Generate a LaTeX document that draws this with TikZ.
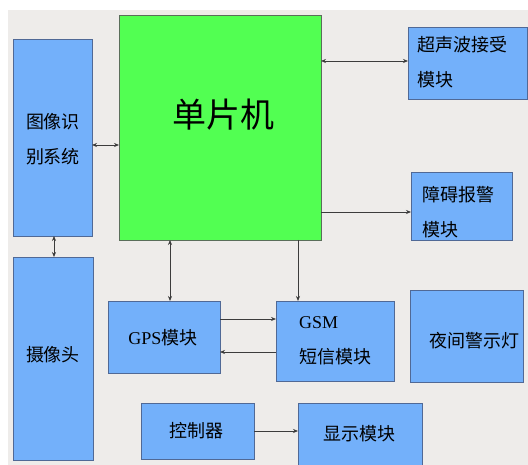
\documentclass[tikz,border=0pt]{standalone}
\usepackage{fontspec}
\setmainfont{Liberation Serif}
\newfontfamily\cjk{Noto Sans CJK SC}
\usetikzlibrary{arrows.meta}
\definecolor{bg}{RGB}{238,236,234}
\definecolor{boxblue}{RGB}{115,176,250}
\definecolor{boxedge}{RGB}{80,105,150}
\definecolor{mcugreen}{RGB}{82,255,82}
\definecolor{mcuedge}{RGB}{90,110,90}
\definecolor{linegray}{RGB}{60,60,60}
\begin{document}
\begin{tikzpicture}[x=1pt,y=-1pt,
  bluebox/.style={draw=boxedge,fill=boxblue,line width=0.9pt,inner sep=0pt,outer sep=0pt,anchor=north west},
  greenbox/.style={draw=mcuedge,fill=mcugreen,line width=0.9pt,inner sep=0pt,outer sep=0pt,anchor=north west},
  lbl/.style={inner sep=0pt,font=\cjk\fontsize{18}{35}\selectfont,text=black},
  conn/.style={draw=linegray,line width=0.7pt},
  tip/.style={-{Stealth[length=5pt,width=4pt]}},
  tips/.style={{Stealth[length=5pt,width=4pt]}-{Stealth[length=5pt,width=4pt]}}
]
\useasboundingbox (0,0) rectangle (528,465);
\fill[white] (0,0) rectangle (528,465);
\fill[bg] (8,10) rectangle (528,465);

% boxes
\node[greenbox,minimum width=202pt,minimum height=225pt] (mcu) at (119,15) {};
\node[bluebox,minimum width=79pt,minimum height=197pt] (img) at (13,39) {};
\node[bluebox,minimum width=80pt,minimum height=203pt] (cam) at (13,257) {};
\node[bluebox,minimum width=119pt,minimum height=72pt] (ultra) at (408,27) {};
\node[bluebox,minimum width=101pt,minimum height=68pt] (alarm) at (411,172) {};
\node[bluebox,minimum width=112pt,minimum height=72pt] (gps) at (108,301) {};
\node[bluebox,minimum width=118pt,minimum height=80pt] (gsm) at (276,301) {};
\node[bluebox,minimum width=113pt,minimum height=92pt] (night) at (410,290) {};
\node[bluebox,minimum width=113pt,minimum height=56pt] (ctrl) at (141,403) {};
\node[bluebox,minimum width=124pt,minimum height=66pt] (disp) at (298,403) {};

% labels
\node[lbl,font=\cjk\fontsize{34}{36}\selectfont] (tmcu) at (223,115) {单片机};
\node[lbl,align=center] (timg) at (53,139) {图像识\\别系统};
\node[lbl] (tcam) at (53,355) {摄像头};
\node[lbl,align=left,anchor=west] (tultra) at (417,62) {超声波接受\\模块};
\node[lbl,align=left,anchor=west] (talarm) at (422,212) {障碍报警\\模块};
\node[lbl] (tgps) at (163,338) {{\rmfamily GPS}模块};
\node[lbl,align=left,anchor=west] (tgsm) at (299,341) {{\rmfamily GSM}\\短信模块};
\node[lbl] (tnight) at (474,341) {夜间警示灯};
\node[lbl] (tctrl) at (196,431) {控制器};
\node[lbl] (tdisp) at (359,434) {显示模块};

% connectors
\draw[conn,tips] (img.east |- 0,145) -- (mcu.west |- 0,145);
\draw[conn,tips] (mcu.east |- 0,61) -- (ultra.west |- 0,61);
\draw[conn,tip] (mcu.east |- 0,212) -- (alarm.west |- 0,212);
\draw[conn,tips] (img.south -| 54,0) -- (cam.north -| 54,0);
\draw[conn,tips] (mcu.south -| 170,0) -- (gps.north -| 170,0);
\draw[conn,tip] (mcu.south -| 298,0) -- (gsm.north -| 298,0);
\draw[conn,tip] (gps.east |- 0,319) -- (gsm.west |- 0,319);
\draw[conn,tip] (gsm.west |- 0,352) -- (gps.east |- 0,352);
\draw[conn,tip] (ctrl.east |- 0,431) -- (disp.west |- 0,431);
\end{tikzpicture}
\end{document}
